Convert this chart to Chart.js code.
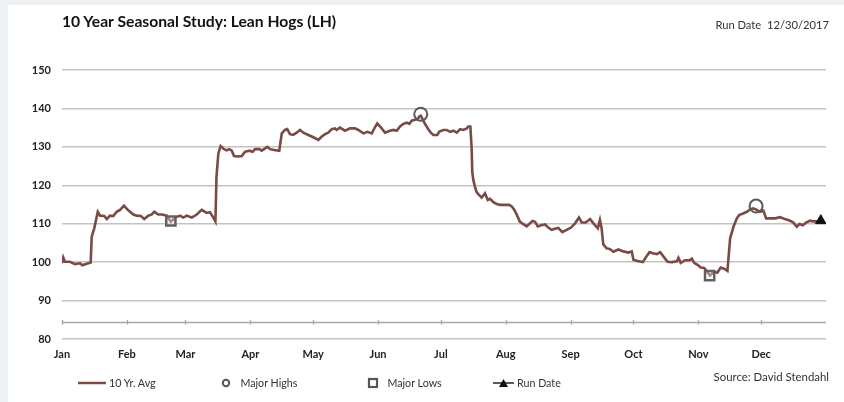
<!DOCTYPE html>
<html>
<head>
<meta charset="utf-8">
<script src="https://cdn.jsdelivr.net/npm/chart.js@4.4.0/dist/chart.umd.min.js"></script>
<style>
  html, body { margin: 0; padding: 0; }
  body { width: 844px; height: 402px; background: #eef1f3; position: relative; overflow: hidden; font-family: Lato, "Open Sans", sans-serif; }
  #panel { position: absolute; left: 8px; top: 5px; width: 836px; height: 397px; background: #ffffff; }
  #wrap { position: absolute; left: 0; top: 0; width: 844px; height: 402px; }
  .txt { position: absolute; white-space: nowrap; color: #222; }
  #title { left: 62px; top: 12px; font-size: 15.7px; font-weight: bold; color: #111; }
  #rundate { right: 15px; top: 18px; font-size: 11.2px; color: #333; }
  #source { right: 15px; top: 370px; font-size: 11.4px; color: #333; }
  .leg { position: absolute; top: 376px; font-size: 10.7px; color: #333; white-space: nowrap; display: flex; align-items: center; }
  .leg svg { margin-right: 3px; }
</style>
</head>
<body>
<div id="panel"></div>
<div id="wrap"><canvas id="c" width="844" height="402"></canvas></div>
<div class="txt" id="title">10 Year Seasonal Study: Lean Hogs (LH)</div>
<div class="txt" id="rundate">Run Date&nbsp;&nbsp;12/30/2017</div>
<div class="txt" id="source">Source: David Stendahl</div>
<div class="leg" style="left:78px"><svg width="28" height="8"><line x1="0" y1="4" x2="28" y2="4" stroke="#7a4a45" stroke-width="2.5"/></svg>10 Yr. Avg</div>
<div class="leg" style="left:220px"><svg width="12" height="12"><circle cx="6" cy="6" r="3.2" fill="none" stroke="#555" stroke-width="2"/></svg>&nbsp;&nbsp;Major Highs</div>
<div class="leg" style="left:367px"><svg width="12" height="12"><rect x="2" y="2" width="8" height="8" fill="none" stroke="#555" stroke-width="2.2"/></svg>&nbsp;&nbsp;Major Lows</div>
<div class="leg" style="left:493px"><svg width="21" height="10"><line x1="0" y1="5" x2="21" y2="5" stroke="#222" stroke-width="1.5"/><polygon points="10.5,1 15,9 6,9" fill="#111"/></svg>Run Date</div>
<script>
// ---- data (day of year -> 10 yr average) ----
const monthStarts = [0, 31, 59, 90, 120, 151, 181, 212, 243, 273, 304, 334];
const monthLabels = ['Jan', 'Feb', 'Mar', 'Apr', 'May', 'Jun', 'Jul', 'Aug', 'Sep', 'Oct', 'Nov', 'Dec'];
const yTicks = [80, 90, 100, 110, 120, 130, 140, 150];

const days = [0, 0.6, 1.4, 3.8, 6.2, 8.6, 9.7, 11.8, 13.7, 14.2, 15.4, 17.1, 18.2, 20.2, 21.4, 22.9, 24.5, 26.1, 27.7, 29.6,
  31.4, 34.1, 35.7, 37.7, 39.3, 41.2, 42.9, 44.1, 46.0, 47.9, 50.0, 52.0, 54.0, 56.4, 58.0, 59.6, 62.0, 64.4, 66.7, 69.1,
  70.7, 72.3, 73.3, 73.8, 74.7, 75.8, 77.4, 78.7, 79.9, 81.1, 82.2, 84.2, 85.9, 87.4, 89.5, 91.1, 92.2, 94.3, 95.4, 96.5,
  98.1, 99.4, 101.3, 103.8, 105.0, 106.5, 107.6, 108.9, 110.5, 112.1, 113.7, 115.3, 117.7, 120.1, 122.5, 124.1, 125.7, 127.2, 128.9, 130.4,
  131.2, 132.8, 135.2, 137.6, 140.0, 141.6, 144.0, 145.9, 148.0, 149.5, 150.6, 152.3, 154.3, 156.7, 158.3, 159.9, 161.5, 163.1, 164.7, 165.9,
  167.1, 168.2, 169.8, 170.7, 171.4, 171.9, 173.4, 175.0, 176.2, 177.4, 179.3, 180.3, 182.2, 183.8, 185.4, 187.0, 188.6, 190.2, 191.7, 193.4,
  194.1, 195.1, 195.7, 196.0, 196.5, 197.3, 198.1, 199.2, 200.5, 202.1, 203.4, 204.5, 206.1, 207.7, 209.3, 211.7, 213.6, 214.9, 216.1, 217.3,
  218.8, 220.4, 222.0, 223.6, 224.7, 226.0, 227.3, 228.9, 230.8, 232.3, 233.9, 235.5, 237.1, 239.0, 241.1, 243.2, 245.1, 247.0, 248.3, 250.2,
  252.3, 253.9, 256.0, 257.0, 257.8, 258.6, 260.2, 261.8, 263.4, 265.8, 268.2, 270.6, 272.2, 273.0, 274.9, 277.5, 279.1, 280.7, 282.2, 284.2,
  285.8, 287.3, 289.3, 291.4, 293.7, 294.5, 295.6, 297.7, 299.8, 300.9, 302.0, 303.6, 305.2, 306.8, 308.0, 309.6, 311.2, 313.1, 314.7, 316.3,
  317.9, 319.2, 320.8, 322.4, 323.6, 325.2, 327.2, 328.7, 330.3, 331.9, 333.5, 335.1, 336.4, 338.3, 340.7, 343.1, 345.4, 347.8, 349.4, 351.0,
  352.3, 353.9, 355.5, 357.4, 359.0, 360.9, 362.5];
const avg = [99.7, 101.2, 100.1, 100.1, 99.5, 99.7, 99.2, 99.6, 99.9, 106.6, 108.8, 113.1, 112.1, 112.0, 111.2, 112.1, 112.0, 113.1, 113.6, 114.7,
  113.6, 112.4, 112.1, 112.0, 111.2, 112.1, 112.4, 113.1, 112.4, 112.4, 112.1, 110.5, 111.6, 112.1, 111.6, 112.1, 111.6, 112.4, 113.6, 112.8,
  113.0, 111.6, 110.6, 122.2, 128.3, 130.2, 129.4, 129.1, 129.4, 129.0, 127.6, 127.5, 127.6, 128.7, 129.0, 128.7, 129.4, 129.4, 129.0, 129.4,
  130.0, 129.4, 129.2, 129.0, 133.5, 134.4, 134.6, 133.3, 133.1, 133.7, 134.4, 133.7, 133.1, 132.5, 131.8, 132.7, 133.3, 133.7, 134.6, 134.8,
  134.4, 135.0, 134.2, 134.8, 134.8, 134.4, 133.5, 133.9, 133.5, 135.1, 136.1, 135.1, 133.7, 134.2, 134.4, 134.2, 135.3, 136.0, 136.3, 136.0,
  136.8, 137.0, 137.2, 137.9, 138.1, 137.6, 136.0, 134.6, 133.7, 133.1, 133.1, 134.0, 134.4, 134.4, 133.9, 134.2, 133.7, 134.6, 134.4, 134.8,
  135.3, 135.3, 129.6, 123.5, 121.4, 119.6, 118.2, 117.5, 116.8, 117.9, 116.2, 116.5, 115.6, 115.1, 114.9, 114.9, 114.9, 114.5, 113.6, 112.3,
  110.5, 109.9, 109.3, 110.1, 110.7, 110.5, 109.3, 109.6, 109.8, 109.0, 108.4, 108.7, 108.9, 107.8, 108.4, 109.0, 110.1, 111.6, 110.3, 110.3,
  111.2, 110.1, 108.8, 111.0, 108.8, 104.6, 103.6, 103.4, 102.7, 103.3, 102.8, 102.5, 102.8, 100.6, 100.3, 100.0, 101.4, 102.6, 102.3, 102.1,
  102.6, 101.5, 100.1, 100.0, 100.2, 101.1, 99.8, 100.5, 100.5, 100.9, 99.8, 99.3, 98.6, 98.5, 97.7, 96.5, 97.4, 97.3, 98.6, 98.3,
  97.7, 106.2, 109.2, 111.4, 112.3, 112.6, 113.1, 113.7, 114.0, 113.6, 113.1, 113.4, 111.4, 111.4, 111.4, 111.7, 111.2, 110.8, 110.3, 109.2,
  109.9, 109.6, 110.3, 110.8, 110.6, 110.6, 110.8];

const highDays = [171.4, 331.6];
const highVals = [138.5, 114.6];
const lowDays = [52.0, 309.4];
const lowVals = [110.7, 96.5];
const runDays = [362.5];
const runVals = [110.8];
const AXIS_CROSS = 84.3;

const pts = (xs, ys) => xs.map((x, i) => ({ x: x, y: ys[i] }));

const crossAxisPlugin = {
  id: 'crossAxis',
  beforeDatasetsDraw(chart) {
    const xs = chart.scales.x, ys = chart.scales.y, ctx = chart.ctx;
    const y = Math.round(ys.getPixelForValue(AXIS_CROSS)) + 0.5;
    ctx.save();
    ctx.strokeStyle = '#a6a6a6';
    ctx.lineWidth = 1.3;
    ctx.beginPath();
    ctx.moveTo(xs.getPixelForValue(0), y);
    ctx.lineTo(xs.getPixelForValue(365), y);
    monthStarts.forEach(m => {
      const px = Math.round(xs.getPixelForValue(m)) + 0.5;
      ctx.moveTo(px, y - 2.5);
      ctx.lineTo(px, y + 2);
    });
    ctx.stroke();
    ctx.restore();
  }
};

new Chart(document.getElementById('c'), {
  type: 'line',
  data: {
    datasets: [
      { label: 'Run Date', type: 'scatter', data: pts(runDays, runVals), pointStyle: 'triangle', pointRadius: 6, backgroundColor: '#111', borderColor: '#111', borderWidth: 1, order: 0 },
      { label: 'Major Highs', type: 'scatter', data: pts(highDays, highVals), pointStyle: 'circle', pointRadius: 6.5, backgroundColor: 'rgba(255,255,255,0)', borderColor: '#5a5a5a', borderWidth: 2, order: 0 },
      { label: 'Major Lows', type: 'scatter', data: pts(lowDays, lowVals), pointStyle: 'rect', pointRadius: 6.5, backgroundColor: 'rgba(255,255,255,0.35)', borderColor: '#606060', borderWidth: 2.5, order: 0 },
      { label: '10 Yr. Avg', data: pts(days, avg), borderColor: '#7a4a45', borderWidth: 2.6, pointRadius: 0, tension: 0, fill: false, order: 1 }
    ]
  },
  options: {
    responsive: false,
    animation: false,
    layout: { padding: { left: 0, right: 18, top: 70, bottom: 0 } },
    plugins: { legend: { display: false }, tooltip: { enabled: false }, title: { display: false } },
    scales: {
      x: {
        type: 'linear', min: 0, max: 365,
        afterBuildTicks: s => { s.ticks = monthStarts.map(v => ({ value: v })); },
        afterFit: s => { s.height = 63; },
        grid: { display: false, drawTicks: false },
        border: { display: false },
        ticks: {
          autoSkip: false, maxRotation: 0, padding: 9,
          color: '#222', font: { family: 'Lato', size: 11, weight: 'bold' },
          callback: (v, i) => monthLabels[i]
        }
      },
      y: {
        min: 80, max: 150,
        afterBuildTicks: s => { s.ticks = yTicks.map(v => ({ value: v })); },
        afterFit: s => { s.width = 62; },
        grid: { color: '#c3c3c3', lineWidth: 1.5, drawTicks: false },
        border: { display: false },
        ticks: { padding: 11, color: '#222', font: { family: 'Lato', size: 11, weight: 'bold' } }
      }
    }
  },
  plugins: [crossAxisPlugin]
});
</script>
</body>
</html>
